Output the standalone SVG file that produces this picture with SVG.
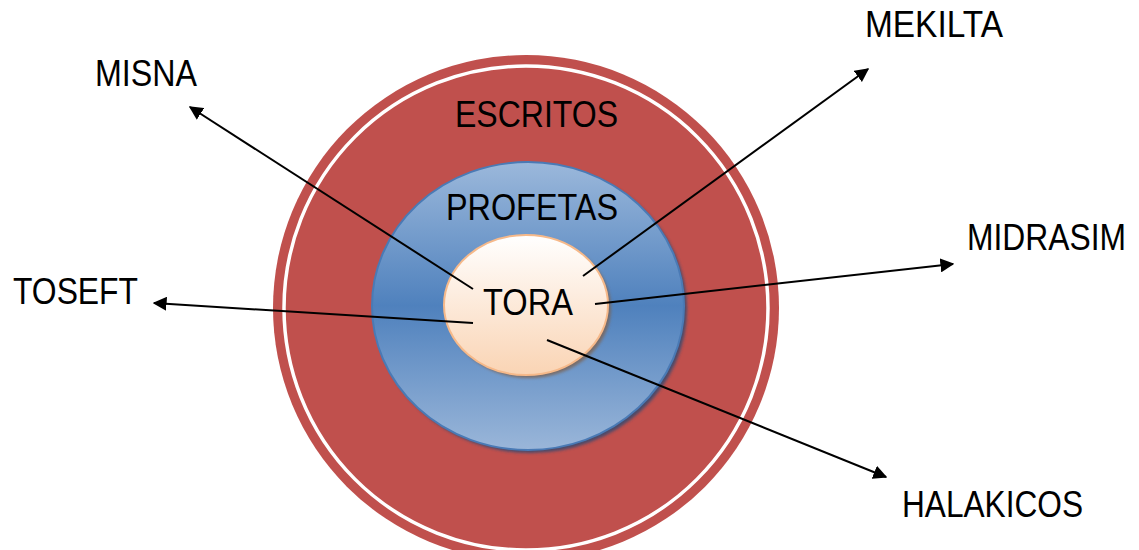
<svg xmlns="http://www.w3.org/2000/svg" width="1139" height="550" viewBox="0 0 1139 550">
<style>
  text { font-family: "Liberation Sans", Arial, sans-serif; font-size: 37px; fill: #000; }
  .conn { stroke: #000; stroke-width: 2; fill: none; marker-end: url(#arr); }
</style>
<defs>
  <marker id="arr" viewBox="0 0 10 10" refX="9" refY="5" markerWidth="7" markerHeight="7" markerUnits="strokeWidth" orient="auto">
    <path d="M0,0 L10,5 L0,10 z" fill="#000"/>
  </marker>
  <linearGradient id="blueG" x1="0" y1="0" x2="0" y2="1">
    <stop offset="0" stop-color="#9BB8DB"/>
    <stop offset="0.5" stop-color="#4F81BD"/>
    <stop offset="1" stop-color="#9AB6D9"/>
  </linearGradient>
  <linearGradient id="toraG" x1="0" y1="0" x2="0" y2="1">
    <stop offset="0" stop-color="#FFFFFF"/>
    <stop offset="1" stop-color="#FAD4B4"/>
  </linearGradient>
  <filter id="blur" x="-10%" y="-10%" width="120%" height="120%">
    <feGaussianBlur stdDeviation="1.5"/>
  </filter>
</defs>
<rect width="1139" height="550" fill="#fff"/>
<g id="escritos">
  <circle cx="526" cy="308" r="253" fill="#C0504D"/>
  <circle cx="526" cy="308" r="242" fill="none" stroke="#fff" stroke-width="3.5"/>
  <text x="455" y="127" textLength="163" lengthAdjust="spacingAndGlyphs">ESCRITOS</text>
</g>
<g id="profetas">
  <ellipse cx="531" cy="309" rx="156" ry="144" fill="#2B4A72" opacity="0.8" filter="url(#blur)"/>
  <ellipse cx="528" cy="306" rx="156" ry="144" fill="url(#blueG)" stroke="#4A7AB5" stroke-width="2"/>
  <text x="446" y="220" textLength="172" lengthAdjust="spacingAndGlyphs">PROFETAS</text>
</g>
<g id="tora">
  <ellipse cx="529" cy="308" rx="82" ry="70" fill="#7A6558" opacity="0.85" filter="url(#blur)"/>
  <ellipse cx="526" cy="305" rx="82" ry="70" fill="url(#toraG)" stroke="#F6B98A" stroke-width="2"/>
  <text x="483" y="315" textLength="90" lengthAdjust="spacingAndGlyphs">TORA</text>
</g>
<g id="misna"><text x="95" y="86" textLength="102" lengthAdjust="spacingAndGlyphs">MISNA</text></g>
<g id="toseft"><text x="13" y="304" textLength="125" lengthAdjust="spacingAndGlyphs">TOSEFT</text></g>
<g id="mekilta"><text x="865" y="37" textLength="138" lengthAdjust="spacingAndGlyphs">MEKILTA</text></g>
<g id="midrasim"><text transform="translate(967,250) scale(0.86,1)" x="0" y="0">MIDRASIM</text></g>
<g id="halakicos"><text x="902" y="517" textLength="181" lengthAdjust="spacingAndGlyphs">HALAKICOS</text></g>
<g id="connectors">
  <line class="conn" x1="473" y1="289" x2="190" y2="107"/>
  <line class="conn" x1="473" y1="323" x2="154" y2="303"/>
  <line class="conn" x1="583" y1="276" x2="868" y2="69"/>
  <line class="conn" x1="595" y1="304" x2="953" y2="264"/>
  <line class="conn" x1="547" y1="340" x2="886" y2="477"/>
</g>
</svg>
